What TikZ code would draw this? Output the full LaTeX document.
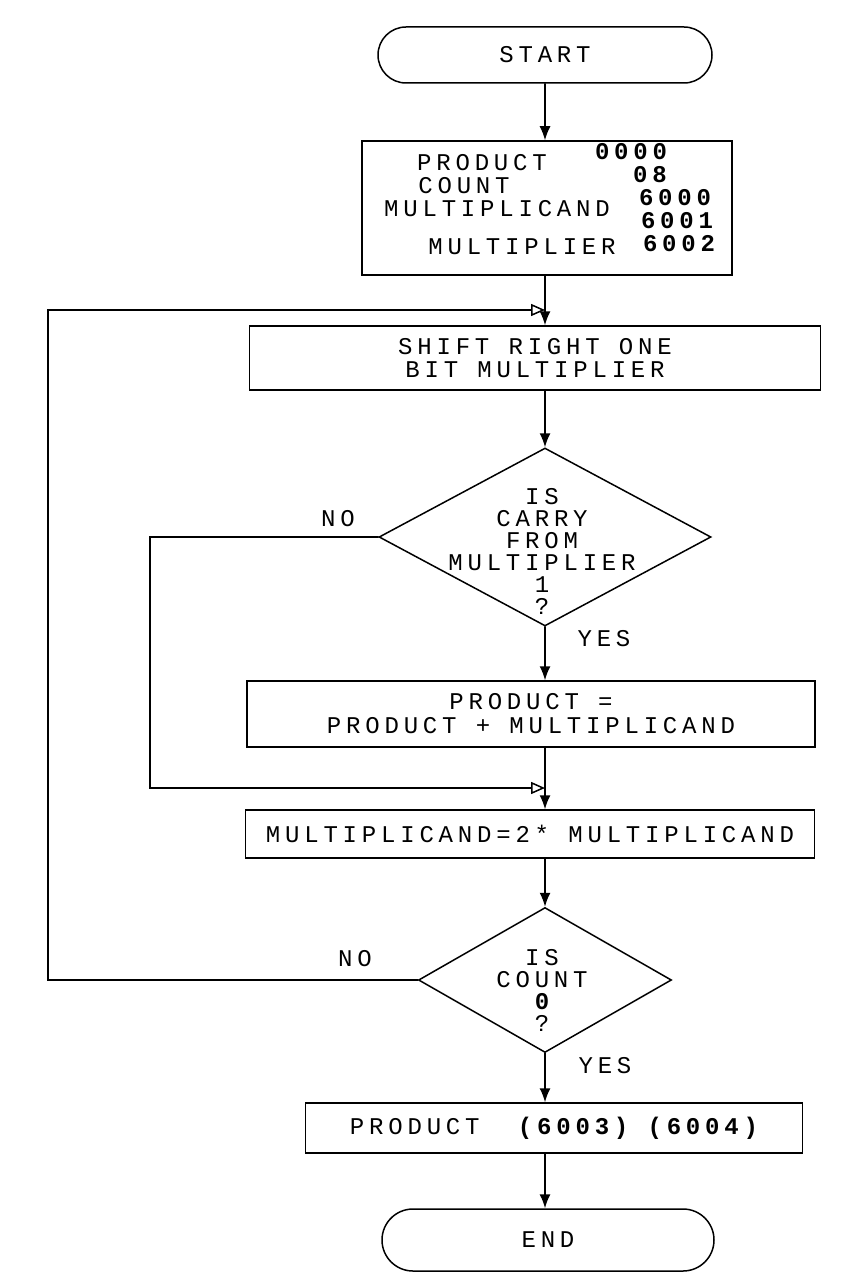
\documentclass[tikz,border=0pt]{standalone}
\usepackage{fontspec}
\usetikzlibrary{shapes.geometric,shapes.misc,arrows.meta}
\newfontfamily\dotfont[LetterSpace=20]{Liberation Mono}
\newcommand\flowfont[1]{\dotfont\fontsize{24}{#1}\selectfont}
\setlength{\lineskiplimit}{-30pt}
\setlength{\lineskip}{0pt}

\begin{document}
\begin{tikzpicture}[x=1pt, y=-1pt, line width=1.5pt, line cap=round,
    every node/.style={font=\flowfont{22}, inner sep=0pt},
    term/.style={draw, rounded rectangle, minimum width=334pt, minimum height=56pt},
    procbox/.style={draw, rectangle},
    decide/.style={draw, diamond},
    flow/.style={-{Latex[length=14pt,width=11pt]}},
    loopback/.style={-{Triangle[open,length=14pt,width=12pt]}}]
  \useasboundingbox (0,0) rectangle (857,1279);
  \coordinate (spine) at (545,0);

  \node[term] (start) at (545,55) {START};

  \node[procbox, minimum width=370pt, minimum height=134pt] (init) at (547,208) {};
  \node (prodname) at (482,163) {PRODUCT};
  \node (prodaddr) at (631,152) {\bfseries 0000};
  \node (cntval) at (650,175) {\bfseries 08};
  \node (cntname) at (464,186) {COUNT};
  \node (mcdaddr) at (675,198) {\bfseries 6000};
  \node (mcdname) at (497,209) {MULTIPLICAND};
  \node (mcdaddrb) at (677,221) {\bfseries 6001};
  \node (mlraddr) at (679,244) {\bfseries 6002};
  \node (mlrname) at (522,247) {MULTIPLIER};

  \node[procbox, minimum width=571pt, minimum height=64pt, align=center] (shift) at (535,358)
    {SHIFT RIGHT ONE\\[1pt] BIT MULTIPLIER};

  \node[decide, minimum width=332pt, minimum height=178pt] (carry) at (545,537) {};
  \node[align=center] (carrytxt) at (542,551) {IS\\CARRY\\FROM\\MULTIPLIER\\1\\?};
  \node (nocarry) at (338,519) {NO};
  \node (yescarry) at (604,639) {YES};

  \node[procbox, minimum width=568pt, minimum height=66pt, align=center] (add) at (531,714)
    {PRODUCT =\\[2pt] PRODUCT + MULTIPLICAND};
  \node[procbox, minimum width=569pt, minimum height=48pt] (double) at (530,834)
    {MULTIPLICAND=2* MULTIPLICAND};

  \node[decide, minimum width=253pt, minimum height=145pt] (count) at (545,980) {};
  \node[align=center] (counttxt) at (542,990) {IS\\COUNT\\{\bfseries 0}\\?};
  \node (nocount) at (355,959) {NO};
  \node (yescount) at (605,1066) {YES};

  \node[procbox, minimum width=497pt, minimum height=50pt] (result) at (554,1128)
    {PRODUCT~~{\bfseries (6003) (6004)}};
  \node[term, minimum width=332pt, minimum height=62pt] (stop) at (548,1240) {END};

  \coordinate (outerleft) at (48,310);
  \coordinate (outerjoin) at (545,310);
  \coordinate (innerleft) at (150,788);
  \coordinate (innerjoin) at (545,788);

  \draw[flow] (start.south) -- (init.north -| spine);
  \draw[flow] (init.south -| spine) -- (shift.north -| spine);
  \draw[flow] (shift.south -| spine) -- (carry.north);
  \draw[flow] (carry.south) -- (add.north -| spine);
  \draw[flow] (add.south -| spine) -- (double.north -| spine);
  \draw[flow] (double.south -| spine) -- (count.north);
  \draw[flow] (count.south) -- (result.north -| spine);
  \draw[flow] (result.south -| spine) -- (stop.north -| spine);

  \draw[loopback] (carry.west) -| (innerleft) -- (innerjoin);
  \draw[loopback] (count.west) -| (outerleft) -- (outerjoin);
\end{tikzpicture}
\end{document}
